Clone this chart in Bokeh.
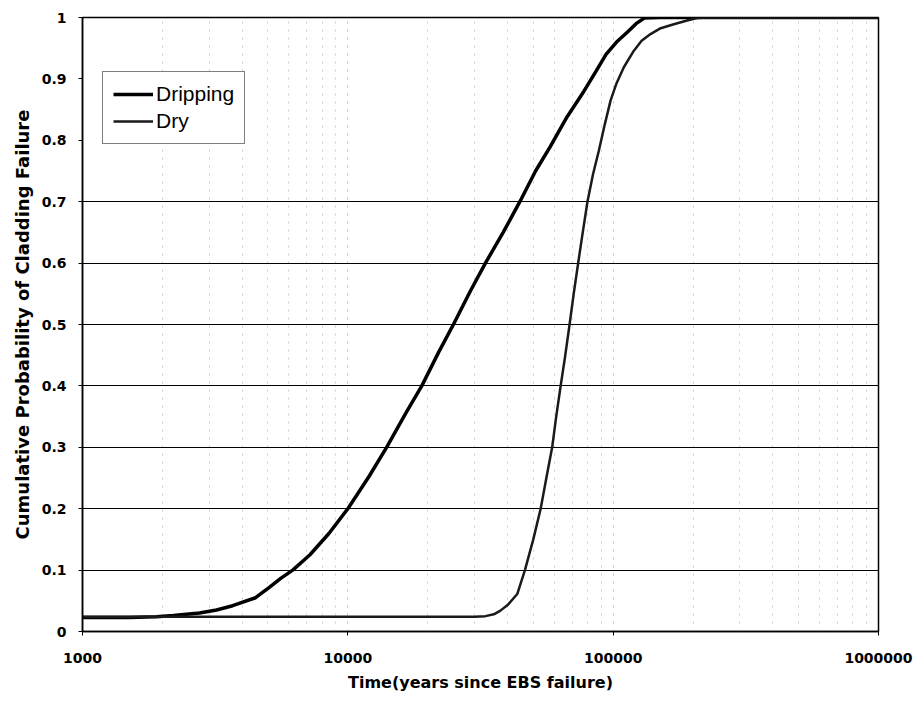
from bokeh.plotting import figure
from bokeh.models import FixedTicker, NumeralTickFormatter, Legend, LegendItem, Range1d
from bokeh.embed import file_html
from bokeh.resources import INLINE

# ---- data ----
drip_x = [1000, 1500, 1900, 2200, 2760, 3200, 3680, 4490, 5060, 5600, 6200, 7200, 8500,
          10000, 12000, 14000, 16500, 19000, 22000, 25000, 29000, 33000, 38500, 44500,
          51000, 58000, 67000, 77600, 86000, 94000, 103000, 113000, 122000, 131000,
          150000, 1000000]
drip_y = [0.023, 0.023, 0.024, 0.026, 0.030, 0.035, 0.042, 0.055, 0.072, 0.087, 0.100,
          0.125, 0.160, 0.200, 0.252, 0.300, 0.355, 0.400, 0.455, 0.500, 0.555, 0.600,
          0.650, 0.700, 0.750, 0.790, 0.838, 0.880, 0.912, 0.940, 0.960, 0.976, 0.990,
          0.999, 1.000, 1.000]

dry_x = [1000, 10000, 30000, 33000, 35500, 37600, 40000, 43500, 46500, 50000, 53300,
         56000, 58900, 61000, 63400, 66000, 68500, 71000, 73800, 76800, 80000, 84000,
         88300, 93000, 97800, 103000, 109700, 119700, 128000, 138300, 150000, 169300,
         190000, 207000, 230000, 1000000]
dry_y = [0.024, 0.024, 0.024, 0.025, 0.028, 0.034, 0.043, 0.061, 0.100, 0.150, 0.200,
         0.250, 0.300, 0.350, 0.400, 0.450, 0.500, 0.550, 0.600, 0.650, 0.700, 0.745,
         0.783, 0.826, 0.865, 0.893, 0.919, 0.946, 0.962, 0.973, 0.982, 0.989, 0.995,
         0.999, 1.000, 1.000]

series_names = ["Dripping", "Dry"]

x_ticks = [1000, 10000, 100000, 1000000]
x_minor = [m * d for d in (1000, 10000, 100000) for m in range(2, 10)]
y_ticks = [0, 0.1, 0.2, 0.3, 0.4, 0.5, 0.6, 0.7, 0.8, 0.9, 1]
y_tick_labels = ["0", "0.1", "0.2", "0.3", "0.4", "0.5", "0.6", "0.7", "0.8", "0.9", "1"]
y_grid = [0.1, 0.2, 0.3, 0.4, 0.5, 0.6, 0.7]

x_title = "Time(years since EBS failure)"
y_title = "Cumulative Probability of Cladding Failure"

# ---- figure ----
p = figure(width=919, height=705, x_axis_type="log",
           x_range=Range1d(1000, 1000000), y_range=Range1d(0, 1),
           output_backend="svg", toolbar_location=None,
           min_border_left=82, min_border_right=41, min_border_top=17, min_border_bottom=74)

p.background_fill_color = "white"
p.border_fill_color = "white"
p.outline_line_color = "black"
p.outline_line_width = 1.5

tick_font = "DejaVu Sans"

# x axis
p.xaxis.ticker = FixedTicker(ticks=x_ticks, minor_ticks=x_minor)
p.xaxis.formatter = NumeralTickFormatter(format="0")
p.xaxis.axis_label = x_title
p.xaxis.minor_tick_line_color = None
p.xaxis.major_tick_out = 4
p.xaxis.major_tick_in = 0
p.xaxis.major_label_standoff = 17
p.xaxis.axis_label_standoff = 7

# y axis
p.yaxis.ticker = FixedTicker(ticks=y_ticks)
p.yaxis.major_label_overrides = {t: l for t, l in zip(y_ticks, y_tick_labels)}
p.yaxis.axis_label = y_title
p.yaxis.minor_tick_line_color = None
p.yaxis.major_tick_out = 4
p.yaxis.major_tick_in = 0
p.yaxis.major_label_standoff = 12
p.yaxis.axis_label_standoff = 6

for ax in (p.xaxis, p.yaxis):
    ax.axis_line_color = "black"
    ax.axis_line_width = 1.5
    ax.major_tick_line_color = "black"
    ax.major_label_text_font = tick_font
    ax.major_label_text_font_style = "bold"
    ax.major_label_text_font_size = "14px"
    ax.major_label_text_color = "black"
    ax.axis_label_text_font = tick_font
    ax.axis_label_text_font_style = "bold"
    ax.axis_label_text_color = "black"
p.xaxis.axis_label_text_font_size = "16px"
p.yaxis.axis_label_text_font_size = "18px"

# grids
p.ygrid.ticker = FixedTicker(ticks=y_grid)
p.ygrid.grid_line_color = "black"
p.ygrid.grid_line_width = 1.2

p.xgrid.grid_line_color = "#bdbdbd"
p.xgrid.grid_line_dash = "2 6"
p.xgrid.grid_line_width = 1
p.xgrid.minor_grid_line_color = "#cccccc"
p.xgrid.minor_grid_line_dash = "2 6"
p.xgrid.minor_grid_line_width = 1

# lines
r1 = p.line(drip_x, drip_y, line_width=3.5, line_color="black")
r2 = p.line(dry_x, dry_y, line_width=2.5, line_color="#1a1a1a")

legend = Legend(items=[LegendItem(label=series_names[0], renderers=[r1]),
                       LegendItem(label=series_names[1], renderers=[r2])],
                location=(20, 487))
legend.label_text_font = "Liberation Sans"
legend.label_text_font_size = "21px"
legend.label_text_color = "black"
legend.glyph_width = 40
legend.glyph_height = 20
legend.label_height = 20
legend.label_standoff = 3
legend.spacing = 3
legend.padding = 10
legend.margin = 0
legend.border_line_color = "black"
legend.border_line_width = 1
legend.background_fill_color = "white"
legend.background_fill_alpha = 1
p.add_layout(legend)

open("out.html", "w").write(file_html(p, INLINE))
